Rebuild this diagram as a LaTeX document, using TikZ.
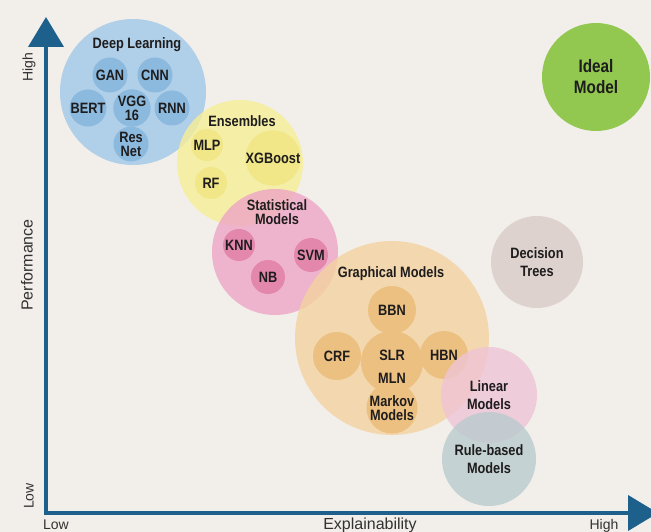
\documentclass[tikz,border=0pt]{standalone}
\usepackage{fontspec}
\usepackage{tikz}
\usetikzlibrary{arrows.meta}
\newfontfamily\lblfont[FakeStretch=0.85]{Liberation Sans}
\newfontfamily\axfont{Liberation Sans}
\definecolor{bgcol}{RGB}{242,238,234}
\definecolor{axcol}{RGB}{30,96,140}
\definecolor{axtxt}{RGB}{50,50,50}
\definecolor{txtcol}{RGB}{30,28,28}
\definecolor{dlcol}{RGB}{160,200,232}
\definecolor{dlin}{RGB}{140,185,222}
\definecolor{enscol}{RGB}{246,238,150}
\definecolor{ensin}{RGB}{241,231,136}
\definecolor{statcol}{RGB}{238,165,198}
\definecolor{statin}{RGB}{228,135,172}
\definecolor{graphcol}{RGB}{244,210,160}
\definecolor{graphin}{RGB}{236,192,128}
\definecolor{dtcol}{RGB}{217,204,200}
\definecolor{idealcol}{RGB}{146,200,80}
\definecolor{lincol}{RGB}{238,196,213}
\definecolor{rulecol}{RGB}{186,203,206}

\begin{document}
\begin{tikzpicture}[x=1pt, y=-1pt,
  every node/.style = {align=center, text=txtcol},
  bigc/.style = {circle, inner sep=0pt, fill opacity=0.8, text opacity=1},
  smallc/.style = {circle, inner sep=0pt},
  lbl/.style = {font=\lblfont\bfseries\fontsize{15}{14}\selectfont},
  lbltall/.style = {font=\lblfont\bfseries\fontsize{15}{18}\selectfont},
  axlbl/.style = {font=\axfont\fontsize{16}{18}\selectfont, text=axtxt},
  endlbl/.style = {font=\axfont\fontsize{14}{16}\selectfont, text=axtxt},
  axis/.style = {line width=4pt, draw=axcol, line join=miter,
    >={Triangle[length=30pt, width=35pt]}}]
  \useasboundingbox (0,0) rectangle (651,532);
  \fill[bgcol] (0,0) rectangle (651,532);

  \coordinate (orig) at (46,513);
  \coordinate (ytop) at (46,17);
  \coordinate (xend) at (658,513);
  \draw[axis, <->] (ytop) -- (orig) -- (xend);

  \node[axlbl, rotate=90] (perf) at (27,265) {Performance};
  \node[endlbl, rotate=90] (yhigh) at (29,67) {High};
  \node[endlbl, rotate=90] (ylow) at (29,496) {Low};
  \node[axlbl, anchor=base] (expl) at (370,529) {Explainability};
  \node[endlbl, anchor=base] (xlow) at (56,529) {Low};
  \node[endlbl, anchor=base] (xhigh) at (604,529) {High};

  \node[bigc, fill=dlcol, minimum size=146pt] (dl) at (133,92) {};
  \node[lbl] (dlname) at (137,45) {Deep Learning};
  \node[smallc, lbl, fill=dlin, minimum size=35pt] (gan) at (110,75) {GAN};
  \node[smallc, lbl, fill=dlin, minimum size=35pt] (cnn) at (155,75) {CNN};
  \node[smallc, lbl, fill=dlin, minimum size=37pt] (bert) at (88,108) {BERT};
  \node[smallc, lbl, fill=dlin, minimum size=35pt] (vgg) at (132,108) {VGG\\16};
  \node[smallc, lbl, fill=dlin, minimum size=35pt] (rnn) at (172,108) {RNN};
  \node[smallc, lbl, fill=dlin, minimum size=35pt] (resnet) at (131,144) {Res\\Net};

  \node[bigc, fill=enscol, minimum size=126pt] (ens) at (240,163) {};
  \node[lbl] (ensname) at (242,121) {Ensembles};
  \node[smallc, lbl, fill=ensin, minimum size=32pt] (mlp) at (207,145) {MLP};
  \node[smallc, lbl, fill=ensin, minimum size=54pt] (xgb) at (273,158) {XGBoost};
  \node[smallc, lbl, fill=ensin, minimum size=32pt] (rf) at (211,183) {RF};

  \node[bigc, fill=statcol, minimum size=126pt] (stat) at (275,252) {};
  \node[lbl] (statname) at (277,212) {Statistical\\Models};
  \node[smallc, lbl, fill=statin, minimum size=32pt] (knn) at (239,245) {KNN};
  \node[smallc, lbl, fill=statin, minimum size=34pt] (svm) at (311,255) {SVM};
  \node[smallc, lbl, fill=statin, minimum size=34pt] (nb) at (268,277) {NB};

  \node[bigc, fill=graphcol, minimum size=194pt] (graph) at (392,338) {};
  \node[lbl] (graphname) at (391,274) {Graphical Models};
  \node[smallc, fill=graphin, minimum size=62pt] (slr) at (392,362) {};
  \node[smallc, lbl, fill=graphin, minimum size=48pt] (bbn) at (392,310) {BBN};
  \node[smallc, lbl, fill=graphin, minimum size=48pt] (crf) at (337,356) {CRF};
  \node[smallc, lbl, fill=graphin, minimum size=48pt] (hbn) at (444,355) {HBN};
  \node[smallc, lbl, fill=graphin, minimum size=48pt] (markov) at (392,408) {Markov\\Models};
  \node[lbl] (slrtxt) at (392,355) {SLR};
  \node[lbl] (mlntxt) at (392,378) {MLN};

  \node[bigc, lbltall, fill=dtcol, minimum size=92pt] (dt) at (537,262) {Decision\\Trees};
  \node[bigc, fill=idealcol, minimum size=108pt, fill opacity=1,
    font=\lblfont\bfseries\fontsize{18}{21}\selectfont] (ideal) at (596,77) {Ideal\\Model};
  \node[bigc, lbltall, fill=lincol, minimum size=96pt] (lin) at (489,395) {Linear\\Models};
  \node[bigc, lbltall, fill=rulecol, minimum size=94pt] (rule) at (489,459) {Rule-based\\Models};
\end{tikzpicture}
\end{document}
